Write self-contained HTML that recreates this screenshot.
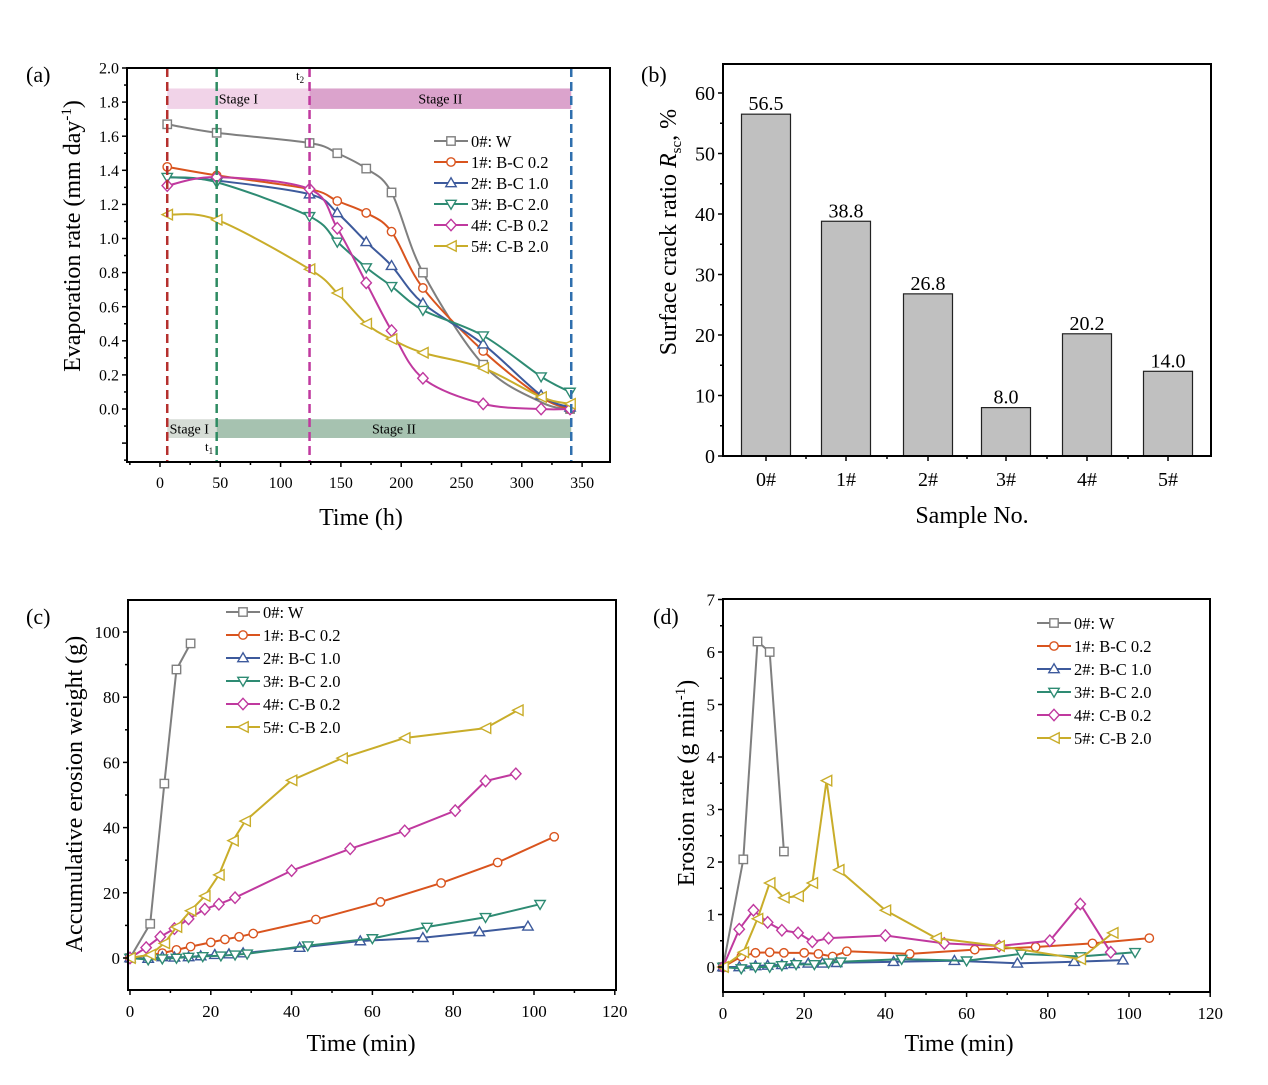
<!DOCTYPE html>
<html><head><meta charset="utf-8"><style>
html,body{margin:0;padding:0;background:#fff}
svg{display:block;font-family:"Liberation Serif",serif}
</style></head><body>
<svg id="s" width="1268" height="1085" viewBox="0 0 1268 1085" xmlns="http://www.w3.org/2000/svg"></svg>
<script>
const S=document.getElementById('s');let out='';
const C=['#7f7f7f','#d9541e','#3d5a9c','#2e8b73','#c0399f','#c9ad2a'];
const LAB=['0#: W','1#: B-C 0.2','2#: B-C 1.0','3#: B-C 2.0','4#: C-B 0.2','5#: C-B 2.0'];
let TS=16;
function mk(t,x,y,c){const r=4.2;let s=`stroke="${c}" stroke-width="1.4" fill="#fff"`;
 if(t==0)return `<rect x="${x-r}" y="${y-r}" width="${2*r}" height="${2*r}" ${s}/>`;
 if(t==1)return `<circle cx="${x}" cy="${y}" r="${r}" ${s}/>`;
 if(t==2)return `<polygon points="${x},${y-r-1} ${x-r-1},${y+r-0.5} ${x+r+1},${y+r-0.5}" ${s}/>`;
 if(t==3)return `<polygon points="${x},${y+r+1} ${x-r-1},${y-r+0.5} ${x+r+1},${y-r+0.5}" ${s}/>`;
 if(t==4)return `<polygon points="${x},${y-r-1.5} ${x+r+1},${y} ${x},${y+r+1.5} ${x-r-1},${y}" ${s}/>`;
 return `<polygon points="${x-r-1},${y} ${x+r+1},${y-r-1} ${x+r+1},${y+r+1}" ${s}/>`;}
function smooth(p){let d=`M${p[0][0]},${p[0][1]}`;for(let i=0;i<p.length-1;i++){const a=p[i-1]||p[i],b=p[i],c=p[i+1],e=p[i+2]||c;
 d+=`C${b[0]+(c[0]-a[0])/6},${b[1]+(c[1]-a[1])/6} ${c[0]-(e[0]-b[0])/6},${c[1]-(e[1]-b[1])/6} ${c[0]},${c[1]}`;}return d;}
function series(pts,fx,fy,i,sm,skip){const p=pts.map(q=>[fx(q[0]),fy(q[1])]);
 out+= sm?`<path d="${smooth(p)}" fill="none" stroke="${C[i]}" stroke-width="2"/>`:`<polyline points="${p.map(q=>q.join(',')).join(' ')}" fill="none" stroke="${C[i]}" stroke-width="2"/>`;
 p.forEach((q,k)=>{if(!(skip&&skip.includes(k)))out+=mk(i,q[0],q[1],C[i]);});}
function legend(x,y0,dy){for(let i=0;i<6;i++){const y=y0+i*dy;out+=`<line x1="${x}" y1="${y}" x2="${x+34}" y2="${y}" stroke="${C[i]}" stroke-width="2"/>`+mk(i,x+17,y,C[i])+`<text x="${x+37}" y="${y+6}" font-size="16.5">${LAB[i]}</text>`;}}
function frame(l,t,r,b){out+=`<rect x="${l}" y="${t}" width="${r-l}" height="${b-t}" fill="none" stroke="#000" stroke-width="2"/>`;}
function xt(v,x,b,lab,minor){out+=`<line x1="${x}" y1="${b}" x2="${x}" y2="${b+(minor?3:5)}" stroke="#000" stroke-width="1.5"/>`;if(lab!==null)out+=`<text x="${x}" y="${b+TS+10}" font-size="${TS}" text-anchor="middle">${lab}</text>`;}
function yt(y,l,lab,minor){out+=`<line x1="${l}" y1="${y}" x2="${l-(minor?3:5)}" y2="${y}" stroke="#000" stroke-width="1.5"/>`;if(lab!==null)out+=`<text x="${l-8}" y="${y+TS*0.35}" font-size="${TS}" text-anchor="end">${lab}</text>`;}

// ===== (a)
{const L=127,T=68,R=610,B=462;const fx=t=>160+t*1.206,fy=v=>409-v*170.5;
out+=`<rect x="${fx(6)}" y="${fy(1.88)}" width="${fx(124)-fx(6)}" height="${fy(1.76)-fy(1.88)}" fill="#f1d3e8"/>`;
out+=`<rect x="${fx(124)}" y="${fy(1.88)}" width="${fx(341)-fx(124)}" height="${fy(1.76)-fy(1.88)}" fill="#dba3cc"/>`;
out+=`<rect x="${fx(6)}" y="${fy(-0.06)}" width="${fx(47)-fx(6)}" height="${fy(-0.17)-fy(-0.06)}" fill="#d6ddd6"/>`;
out+=`<rect x="${fx(47)}" y="${fy(-0.06)}" width="${fx(341)-fx(47)}" height="${fy(-0.17)-fy(-0.06)}" fill="#a6c2b0"/>`;
out+=`<text x="${(fx(6)+fx(124))/2}" y="${fy(1.82)+5}" font-size="14" text-anchor="middle">Stage I</text>`;
out+=`<text x="${(fx(124)+fx(341))/2}" y="${fy(1.82)+5}" font-size="14" text-anchor="middle">Stage II</text>`;
out+=`<text x="${fx(8)}" y="${fy(-0.115)+5}" font-size="14">Stage I</text>`;
out+=`<text x="${(fx(47)+fx(341))/2}" y="${fy(-0.115)+5}" font-size="14" text-anchor="middle">Stage II</text>`;
out+=`<text x="296" y="80" font-size="13">t<tspan font-size="9" dy="3">2</tspan></text>`;
out+=`<text x="205" y="451" font-size="13">t<tspan font-size="9" dy="3">1</tspan></text>`;
const X=[6,47,124,147,171,192,218,268,316,340];
const D=[[1.67,1.62,1.56,1.50,1.41,1.27,0.80,0.26,0.04,0.0],
[1.42,1.37,1.29,1.22,1.15,1.04,0.71,0.34,0.07,0.0],
[1.36,1.34,1.26,1.15,0.98,0.84,0.62,0.38,0.08,0.01],
[1.36,1.33,1.13,0.98,0.83,0.72,0.58,0.43,0.19,0.10],
[1.31,1.36,1.29,1.06,0.74,0.46,0.18,0.03,0.0,0.0],
[1.14,1.11,0.82,0.68,0.50,0.41,0.33,0.24,0.07,0.03]];
const skips=[[8],[2,8],[0,1],[],[],[]];
D.forEach((d,i)=>series(X.map((x,k)=>[x,d[k]]),fx,fy,i,true,skips[i]));
const dash=(x,c)=>out+=`<line x1="${x}" y1="${T}" x2="${x}" y2="${B}" stroke="${c}" stroke-width="2.5" stroke-dasharray="9,5"/>`;
dash(fx(6),'#b5302e');dash(fx(47),'#2e8b62');dash(fx(124),'#c0399f');dash(fx(341),'#2f6fae');
frame(L,T,R,B);
for(let v=-25;v<=375;v+=25){const x=fx(v);if(x<L||x>R)continue;xt(v,x,B,v%50==0?v:null,v%50!=0);}
for(let k=-3;k<=20;k++){const v=k/10;const y=fy(v);if(y>B||y<T-1)continue;yt(y,L,(k%2==0&&k>=0)?v.toFixed(1):null,k%2!=0);}
legend(434,141,21);
out+=`<text x="26" y="82" font-size="22">(a)</text>`;
out+=`<text x="361" y="525" font-size="24" text-anchor="middle">Time (h)</text>`;
out+=`<text transform="translate(80,236) rotate(-90)" font-size="24" text-anchor="middle">Evaporation rate (mm day<tspan font-size="15" dy="-9">-1</tspan><tspan dy="9">)</tspan></text>`;}

// ===== (b)
{TS=20;const L=723,T=64,R=1211,B=456;const fy=v=>456-v*6.05;
const V=[56.5,38.8,26.8,8.0,20.2,14.0],XC=[766,846,928,1006,1087,1168];
V.forEach((v,i)=>{out+=`<rect x="${XC[i]-24.5}" y="${fy(v)}" width="49" height="${B-fy(v)}" fill="#c0c0c0" stroke="#222" stroke-width="1.2"/>`;
out+=`<text x="${XC[i]}" y="${fy(v)-4}" font-size="20" text-anchor="middle">${v.toFixed(1)}</text>`;
xt(0,XC[i],B,i+'#',false);});
[806,887,967,1047,1128].forEach(x=>xt(0,x,B,null,true));
frame(L,T,R,B);
for(let k=0;k<=12;k++){const v=k*5;yt(fy(v),L,k%2==0?v:null,k%2!=0);}
out+=`<text x="641" y="82" font-size="22">(b)</text>`;
out+=`<text x="972" y="523" font-size="24" text-anchor="middle">Sample No.</text>`;
out+=`<text transform="translate(676,232) rotate(-90)" font-size="24" text-anchor="middle">Surface crack ratio <tspan font-style="italic">R</tspan><tspan font-size="15" dy="5">sc</tspan><tspan dy="-5">, %</tspan></text>`;
TS=17;}

// ===== (c)
{const L=128,T=600,R=616,B=990;const fx=t=>130+t*4.04,fy=v=>958-v*3.26;
const D=[[[0,0],[5,10.5],[8.5,53.5],[11.5,88.5],[15,96.5]],
[[0,0],[8,1.5],[11.5,2.5],[15,3.5],[20,4.8],[23.5,5.7],[27,6.5],[30.5,7.5],[46,11.8],[62,17.2],[77,23],[91,29.3],[105,37.2]],
[[0,0],[4.5,-0.2],[8,0.3],[11,0.2],[14.5,0.3],[17.5,0.6],[21,1],[24.5,1.2],[28,1.5],[42,3.2],[57,5.2],[72.5,6.2],[86.5,8],[98.5,9.7]],
[[0,0],[4.5,-0.5],[8,-0.2],[11.5,0],[14.5,0.3],[18,0.5],[22.5,0.7],[26,1],[29,1.3],[44,3.8],[60,6],[73.5,9.5],[88,12.5],[101.5,16.5]],
[[0,0],[4,3.2],[7.5,6.5],[11,9],[14.5,12],[18.5,15],[22,16.5],[26,18.5],[40,26.8],[54.5,33.5],[68,39],[80.5,45.2],[88,54.3],[95.5,56.5]],
[[0,0],[5,1],[8.5,4.5],[11.5,9.5],[15,14.5],[18.5,19],[22,25.5],[25.5,36],[28.5,42],[40,54.5],[52.5,61.3],[68,67.5],[88,70.5],[96,76]]];
D.forEach((d,i)=>series(d,fx,fy,i,false));
frame(L,T,R,B);
for(let v=0;v<=120;v+=10)xt(0,fx(v),B,v%20==0?v:null,v%20!=0);
for(let v=-10;v<=100;v+=10){if(fy(v)>B-2)continue;yt(fy(v),L,v%20==0?v:null,v%20!=0);}
legend(226,612,23);
out+=`<text x="26" y="624" font-size="22">(c)</text>`;
out+=`<text x="361" y="1051" font-size="24" text-anchor="middle">Time (min)</text>`;
out+=`<text transform="translate(82,794) rotate(-90)" font-size="24" text-anchor="middle">Accumulative erosion weight (g)</text>`;}

// ===== (d)
{const L=723,T=599,R=1210,B=992;const fx=t=>723+t*4.06,fy=v=>967-v*52.5;
const D=[[[0,0],[5,2.05],[8.5,6.2],[11.5,6],[15,2.2]],
[[0,0],[4.5,0.2],[8,0.27],[11.5,0.28],[15,0.27],[20,0.27],[23.5,0.25],[27,0.2],[30.5,0.3],[46,0.25],[62,0.33],[77,0.38],[91,0.45],[105,0.55]],
[[0,0],[4,0],[8,0.02],[11,0.03],[14.5,0.04],[17.5,0.06],[21,0.07],[24.5,0.07],[28,0.08],[42,0.1],[57,0.12],[72.5,0.07],[86.5,0.1],[98.5,0.13]],
[[0,0],[4.5,-0.03],[8,0],[11.5,0],[14.5,0.03],[18,0.05],[22.5,0.05],[26,0.08],[29,0.1],[44,0.15],[60,0.12],[73.5,0.25],[88,0.2],[101.5,0.28]],
[[0,0],[4,0.72],[7.5,1.08],[11,0.85],[14.5,0.7],[18.5,0.65],[22,0.48],[26,0.55],[40,0.6],[54.5,0.45],[68,0.4],[80.5,0.5],[88,1.2],[95.5,0.28]],
[[0,0],[5,0.28],[8.5,0.92],[11.5,1.6],[15,1.32],[18.5,1.35],[22,1.6],[25.5,3.55],[28.5,1.85],[40,1.08],[52.5,0.55],[68,0.4],[88,0.15],[96,0.65]]];
D.forEach((d,i)=>series(d,fx,fy,i,false));
frame(L,T,R,B);
for(let v=0;v<=120;v+=10)xt(0,fx(v),B,v%20==0?v:null,v%20!=0);
for(let k=-1;k<=14;k++){const v=k/2;const y=fy(v);if(y>B-2)continue;yt(y,L,(k%2==0&&k>=0)?v:null,k%2!=0);}
legend(1037,623,23);
out+=`<text x="653" y="624" font-size="22">(d)</text>`;
out+=`<text x="959" y="1051" font-size="24" text-anchor="middle">Time (min)</text>`;
out+=`<text transform="translate(694,783) rotate(-90)" font-size="24" text-anchor="middle">Erosion rate (g min<tspan font-size="15" dy="-9">-1</tspan><tspan dy="9">)</tspan></text>`;}
S.innerHTML=out;
</script>
</body></html>
